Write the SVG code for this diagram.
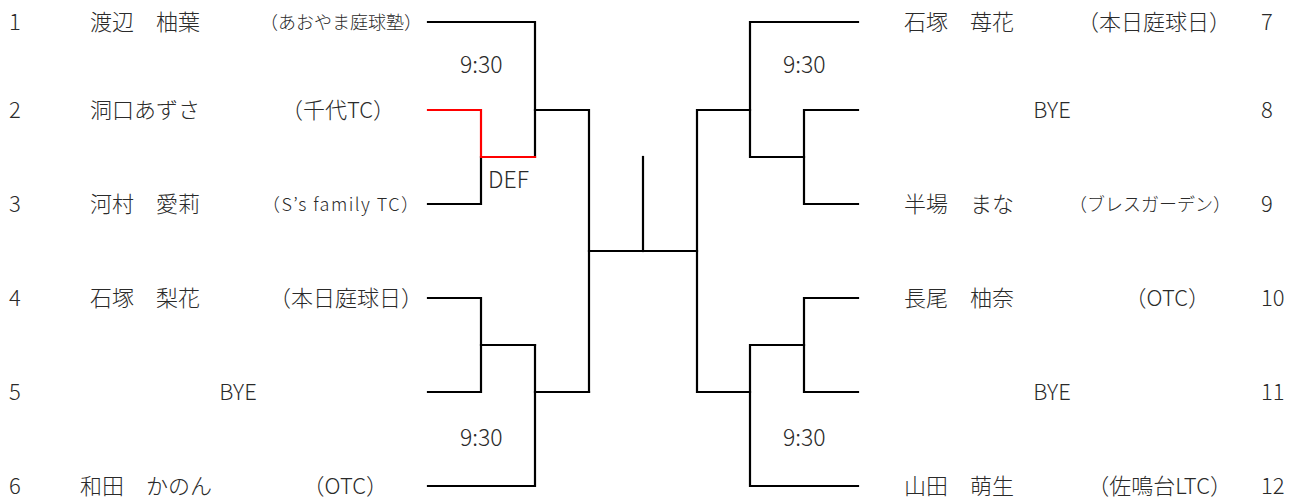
<svg xmlns="http://www.w3.org/2000/svg" width="1300" height="501" viewBox="0 0 1300 501">
<style>
text{font-family:"Noto Sans CJK JP","Noto Sans",sans-serif;font-size:22px;fill:#2a2a2a;font-weight:300}
.s{font-size:18px}
.t{font-size:23px}
.e{text-anchor:end}
.m{text-anchor:middle}
.ln{fill:none;stroke:#000;stroke-width:2.2;stroke-linecap:square}
.red{stroke:#ff0000}
</style>
<rect width="1300" height="501" fill="#fff"/>
<g id="connectors">
<path class="ln" d="M428,22 H535 V157"/>
<path class="ln" d="M428,204 H481 V157"/>
<path class="ln red" d="M428,110 H481 V157 H535"/>
<path class="ln" d="M535,110 H589 V392"/>
<path class="ln" d="M428,298 H481 V392 H428"/>
<path class="ln" d="M481,345 H535"/>
<path class="ln" d="M428,486 H535 V345"/>
<path class="ln" d="M535,392 H589"/>
<path class="ln" d="M589,251 H697"/>
<path class="ln" d="M643,157 V251"/>
<path class="ln" d="M858,22 H750 V157 H804"/>
<path class="ln" d="M858,110 H804 V204 H858"/>
<path class="ln" d="M750,110 H697 V392 H750"/>
<path class="ln" d="M858,298 H804 V392 H858"/>
<path class="ln" d="M804,345 H750 V486 H858"/>
</g>
<g id="labels">
<text class="t" x="460" y="73">9:30</text>
<text class="t" x="488" y="188">DEF</text>
<text class="t" x="460" y="446">9:30</text>
<text class="t" x="783" y="73">9:30</text>
<text class="t" x="783" y="446">9:30</text>
</g>
<g id="p1"><text class="m" x="15" y="29.5">1</text><text x="90" y="29.5">渡辺　柚葉</text><text class="s e" x="422" y="29">（あおやま庭球塾）</text></g>
<g id="p2"><text class="m" x="15" y="117.5">2</text><text x="90" y="117.5">洞口あずさ</text><text class="e" x="395" y="117.5">（千代TC）</text></g>
<g id="p3"><text class="m" x="15" y="211.5">3</text><text x="90" y="211.5">河村　愛莉</text><text class="s" x="262" y="211" textLength="157" lengthAdjust="spacing">（S’s family TC）</text></g>
<g id="p4"><text class="m" x="15" y="305.5">4</text><text x="90" y="305.5">石塚　梨花</text><text class="e" x="423" y="305.5">（本日庭球日）</text></g>
<g id="p5"><text class="m" x="15" y="399.5">5</text><text class="m" x="238" y="399.5">BYE</text></g>
<g id="p6"><text class="m" x="15" y="493.5">6</text><text x="80" y="493.5">和田　かのん</text><text class="e" x="388" y="493.5">（OTC）</text></g>
<g id="p7"><text x="904" y="29.5">石塚　苺花</text><text class="e" x="1231" y="29.5">（本日庭球日）</text><text x="1261" y="29.5">7</text></g>
<g id="p8"><text class="m" x="1052" y="117.5">BYE</text><text x="1261" y="117.5">8</text></g>
<g id="p9"><text x="904" y="211.5">半場　まな</text><text class="s e" x="1231" y="211">（ブレスガーデン）</text><text x="1261" y="211.5">9</text></g>
<g id="p10"><text x="904" y="305.5">長尾　柚奈</text><text class="e" x="1210" y="305.5">（OTC）</text><text x="1261" y="305.5">10</text></g>
<g id="p11"><text class="m" x="1052" y="399.5">BYE</text><text x="1261" y="399.5">11</text></g>
<g id="p12"><text x="904" y="493.5">山田　萌生</text><text class="e" x="1232" y="493.5">（佐鳴台LTC）</text><text x="1261" y="493.5">12</text></g>
</svg>
